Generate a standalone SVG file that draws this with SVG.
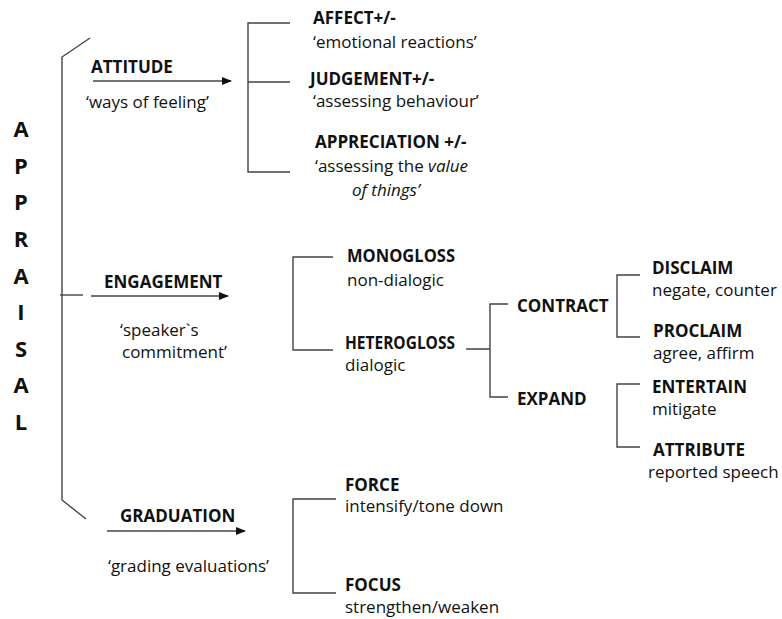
<svg xmlns="http://www.w3.org/2000/svg" width="782" height="619" viewBox="0 0 782 619">
<defs>
<style>
text{font-family:"Open Sans","Noto Sans","DejaVu Sans",sans-serif;font-size:17px;fill:#111}
.b{font-weight:bold}
.big{font-size:22px;font-weight:bold;text-anchor:middle}
.ln{fill:none;stroke:#444;stroke-width:1.4}
</style>
<marker id="ah" markerWidth="10" markerHeight="8" refX="9" refY="4" orient="auto" markerUnits="userSpaceOnUse">
<path d="M0,0 L10,4 L0,8 z" fill="#111"/>
</marker>
</defs>
<rect width="782" height="619" fill="#fff"/>
<g id="appraisal">
<text class="big" x="21" y="137">A</text>
<text class="big" x="21" y="174">P</text>
<text class="big" x="21" y="210">P</text>
<text class="big" x="21" y="247">R</text>
<text class="big" x="21" y="284">A</text>
<text class="big" x="21" y="320">I</text>
<text class="big" x="21" y="357">S</text>
<text class="big" x="21" y="393">A</text>
<text class="big" x="21" y="430">L</text>
</g>
<g id="connectors">
<path class="ln" d="M90,38 L62,57 L62,500 L86,519"/>
<path class="ln" d="M60,295 H83"/>
<path class="ln" d="M93,81 H231" marker-end="url(#ah)"/>
<path class="ln" d="M91,296 H228" marker-end="url(#ah)"/>
<path class="ln" d="M107,531 H245" marker-end="url(#ah)"/>
<path class="ln" d="M290,23 H248 V172 H290 M248,82 H290"/>
<path class="ln" d="M333,257 H293 V350 H333"/>
<path class="ln" d="M466,349 H490 M508,304 H490 V397 H508"/>
<path class="ln" d="M640,275 H617 V337 H640"/>
<path class="ln" d="M640,384 H617 V447 H640"/>
<path class="ln" d="M336,499 H293 V593 H336"/>
</g>
<g id="attitude">
<text class="b" x="91" y="73">ATTITUDE</text>
<text x="86" y="108">‘ways of feeling’</text>
</g>
<g id="affect">
<text class="b" x="313" y="24">AFFECT+/-</text>
<text x="313" y="48">‘emotional reactions’</text>
</g>
<g id="judgement">
<text class="b" x="310" y="85">JUDGEMENT+/-</text>
<text x="313" y="107">‘assessing behaviour’</text>
</g>
<g id="appreciation">
<text class="b" x="315" y="148">APPRECIATION +/-</text>
<text x="315" y="172">‘assessing the <tspan font-style="italic">value</tspan></text>
<text x="352" y="196" font-style="italic">of things’</text>
</g>
<g id="engagement">
<text class="b" x="104" y="288">ENGAGEMENT</text>
<text x="120" y="336">‘speaker`s</text>
<text x="122" y="358">commitment’</text>
</g>
<g id="monogloss">
<text class="b" x="347" y="262" textLength="108" lengthAdjust="spacingAndGlyphs">MONOGLOSS</text>
<text x="347" y="286">non-dialogic</text>
</g>
<g id="heterogloss">
<text class="b" x="345" y="349" textLength="110" lengthAdjust="spacingAndGlyphs">HETEROGLOSS</text>
<text x="345" y="371">dialogic</text>
</g>
<g id="contract">
<text class="b" x="517" y="312">CONTRACT</text>
</g>
<g id="expand">
<text class="b" x="517" y="405">EXPAND</text>
</g>
<g id="disclaim">
<text class="b" x="652" y="274">DISCLAIM</text>
<text x="652" y="296">negate, counter</text>
</g>
<g id="proclaim">
<text class="b" x="653" y="337">PROCLAIM</text>
<text x="653" y="359">agree, affirm</text>
</g>
<g id="entertain">
<text class="b" x="652" y="393">ENTERTAIN</text>
<text x="652" y="415">mitigate</text>
</g>
<g id="attribute">
<text class="b" x="653" y="456">ATTRIBUTE</text>
<text x="648" y="478">reported speech</text>
</g>
<g id="graduation">
<text class="b" x="120" y="522">GRADUATION</text>
<text x="108" y="572">‘grading evaluations’</text>
</g>
<g id="force">
<text class="b" x="345" y="491">FORCE</text>
<text x="345" y="512">intensify/tone down</text>
</g>
<g id="focus">
<text class="b" x="345" y="591">FOCUS</text>
<text x="345" y="613">strengthen/weaken</text>
</g>
</svg>
